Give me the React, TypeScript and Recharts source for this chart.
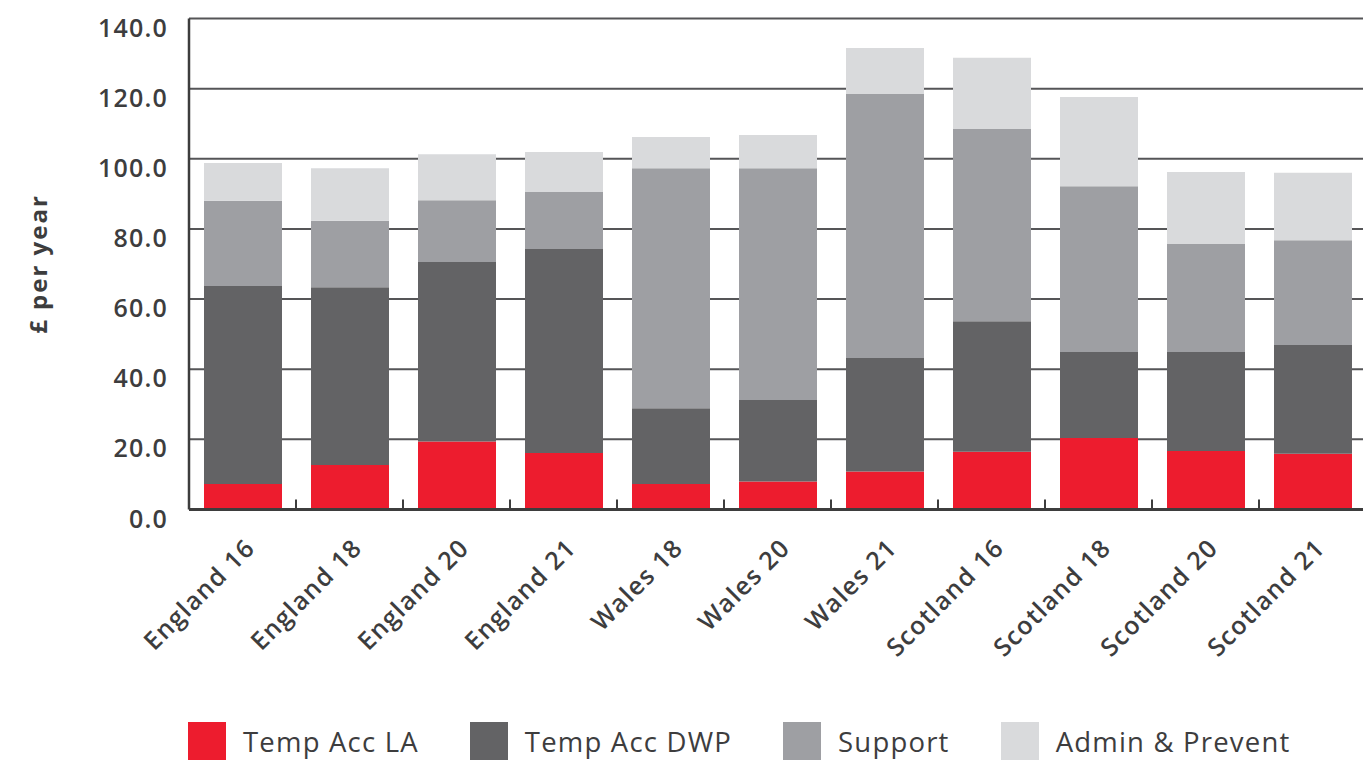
import React from 'react';
import { BarChart, Bar, XAxis, YAxis, CartesianGrid, Legend } from 'recharts';

const categories = ['England 16', 'England 18', 'England 20', 'England 21', 'Wales 18', 'Wales 20', 'Wales 21', 'Scotland 16', 'Scotland 18', 'Scotland 20', 'Scotland 21'];
const tempAccLA = [7.3, 12.7, 19.4, 16.1, 7.3, 8.0, 10.8, 16.5, 20.4, 16.7, 15.9];
const tempAccDWP = [56.4, 50.7, 51.2, 58.2, 21.6, 23.2, 32.4, 37.2, 24.5, 28.2, 31.0];
const support = [24.3, 18.9, 17.6, 16.2, 68.4, 66.1, 75.3, 54.8, 47.3, 30.8, 29.9];
const adminPrevent = [10.8, 15.0, 13.1, 11.4, 8.9, 9.5, 13.1, 20.3, 25.4, 20.5, 19.2];
const yTicks = [0, 20, 40, 60, 80, 100, 120, 140];

const seriesNames = ['Temp Acc LA', 'Temp Acc DWP', 'Support', 'Admin & Prevent'];
const colors = ['#ED1C2E', '#636365', '#9E9FA3', '#D9DADC'];

const data = categories.map((c, i) => ({
  name: c,
  la: tempAccLA[i],
  dwp: tempAccDWP[i],
  support: support[i],
  admin: adminPrevent[i],
}));

const FONT = '"Open Sans", sans-serif';
const TEXT = '#3d3d3e';

const YTick = (props: any) => {
  const { x, y, payload } = props;
  return (
    <text x={x} y={y} dy={8} textAnchor="end" dominantBaseline="central" fontFamily={FONT} fontWeight={600} fontSize={25} letterSpacing={1.2} fill={TEXT}>
      {Number(payload.value).toFixed(1)}
    </text>
  );
};

const XTick = (props: any) => {
  const { x, y, payload, index, visibleTicksCount } = props;
  const half = payload.offset || 0;
  const isLast = index === (visibleTicksCount || categories.length) - 1;
  return (
    <g>
      {!isLast && half > 0 ? (
        <line x1={x + half} x2={x + half} y1={y} y2={y - 10} stroke="#3d3d3d" strokeWidth={2} />
      ) : null}
      <g transform={`translate(${x + 14},${y + 40})`}>
        <text x={0} y={0} textAnchor="end" transform="rotate(-45)" fontFamily={FONT} fontWeight={600} fontSize={25} letterSpacing={1.3} fill={TEXT}>
          {payload.value}
        </text>
      </g>
    </g>
  );
};

const YLabel = (props: any) => {
  const { viewBox } = props;
  const cx = viewBox.x + 37;
  const cy = viewBox.y + viewBox.height / 2;
  return (
    <text x={cx} y={cy} transform={`rotate(-90 ${cx} ${cy})`} textAnchor="middle" dominantBaseline="central" fontFamily={FONT} fontWeight={700} fontSize={24} letterSpacing={2} fill={TEXT}>
      £ per year
    </text>
  );
};

const LegendContent = (props: any) => {
  const { payload } = props;
  const items = [...(payload || [])].sort(
    (a: any, b: any) => seriesNames.indexOf(a.value) - seriesNames.indexOf(b.value)
  );
  return (
    <div style={{ display: 'flex', alignItems: 'flex-start', height: 40 }}>
      {items.map((p: any, i: number) => (
        <div key={i} style={{ display: 'flex', alignItems: 'center', marginRight: 51 }}>
          <div style={{ width: 38, height: 38, background: p.color, marginRight: 17 }} />
          <span style={{ fontFamily: FONT, fontWeight: 500, fontSize: 27.5, letterSpacing: 1.2, lineHeight: '30px', color: TEXT, position: 'relative', top: 1 }}>{p.value}</span>
        </div>
      ))}
    </div>
  );
};

export default function App() {
  return (
    <div style={{ position: 'absolute', left: 0, top: 0, width: 1363, height: 760, overflow: 'hidden', background: '#fff' }}>
      <BarChart width={1366} height={775} data={data} margin={{ top: 18.5, right: 0, bottom: 13, left: 0 }}>
        <CartesianGrid horizontal vertical={false} stroke="#555557" strokeWidth={2} />
        <XAxis dataKey="name" interval={0} height={212.5} tickSize={0} tickMargin={0} tick={<XTick />} tickLine={false} axisLine={{ stroke: '#3d3d3d', strokeWidth: 3 }} />
        <YAxis width={189} domain={[0, 140]} ticks={yTicks} tickSize={0} tickMargin={21} tick={<YTick />} axisLine={{ stroke: '#3d3d3d', strokeWidth: 2.5 }} tickLine={false} label={<YLabel />} />
        <Legend verticalAlign="bottom" align="left" wrapperStyle={{ left: 188 }} content={<LegendContent />} />
        <Bar dataKey="la" name={seriesNames[0]} stackId="a" fill={colors[0]} barSize={78} isAnimationActive={false} />
        <Bar dataKey="dwp" name={seriesNames[1]} stackId="a" fill={colors[1]} barSize={78} isAnimationActive={false} />
        <Bar dataKey="support" name={seriesNames[2]} stackId="a" fill={colors[2]} barSize={78} isAnimationActive={false} />
        <Bar dataKey="admin" name={seriesNames[3]} stackId="a" fill={colors[3]} barSize={78} isAnimationActive={false} />
      </BarChart>
    </div>
  );
}
